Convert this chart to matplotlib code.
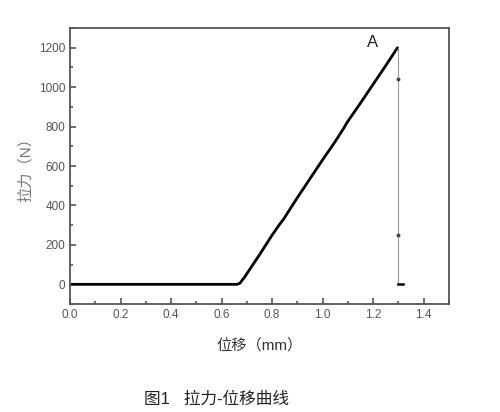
import numpy as np
import matplotlib.pyplot as plt
from matplotlib.ticker import MultipleLocator

plt.rcParams['font.family'] = ['Liberation Sans', 'Noto Sans CJK SC', 'DejaVu Sans']

# force-displacement curve
disp = [0.0, 0.66, 0.672, 0.69, 0.75, 0.80, 0.83, 0.845, 0.90, 1.00, 1.05,
        1.085, 1.095, 1.15, 1.20, 1.25, 1.296]
force = [0, 0, 5, 35, 150, 250, 305, 330, 440, 632, 725,
         795, 818, 920, 1015, 1110, 1200]
# break at point A
break_x = [1.298, 1.298]
break_y = [1200, 0]
dots_y = [1040, 250]
tail_x = [1.298, 1.318]
tail_y = [0, 0]

gray = '#555555'
fig = plt.figure(figsize=(5, 4.12), dpi=100)
ax = fig.add_axes([0.14, 0.262, 0.758, 0.67])

ax.plot(disp, force, color='black', lw=2.0, solid_capstyle='round')
ax.plot(break_x, break_y, color='#999999', lw=0.8)
ax.plot([break_x[0]] * 2, dots_y, ls='none', marker='o', ms=1.8, color='#444444')
ax.plot(tail_x, tail_y, color='black', lw=1.8)
ax.text(1.175, 1205, 'A', fontsize=12, color='#222222')

ax.set_xlim(0, 1.5)
ax.set_ylim(-100, 1300)
ax.set_xticks(np.arange(0, 1.41, 0.2))
ax.set_yticks(np.arange(0, 1201, 200))
ax.xaxis.set_minor_locator(MultipleLocator(0.1))
ax.yaxis.set_minor_locator(MultipleLocator(100))
ax.tick_params(which='both', direction='in', colors=gray, labelsize=8.5, width=1.2)
ax.tick_params(which='major', length=4)
ax.tick_params(which='minor', length=2)
ax.xaxis.set_major_formatter(plt.FormatStrFormatter('%.1f'))
for s in ax.spines.values():
    s.set_color(gray)
    s.set_linewidth(1.3)

ax.set_xlabel('位移（mm）', fontsize=11, color='#333333', labelpad=12)
ax.set_ylabel('拉力（N）', fontsize=11, color='#777777', labelpad=4)

fig.text(0.432, 0.02, '图1   拉力-位移曲线', fontsize=12, color='#222222', ha='center')

fig.savefig('out.png', dpi=100)
